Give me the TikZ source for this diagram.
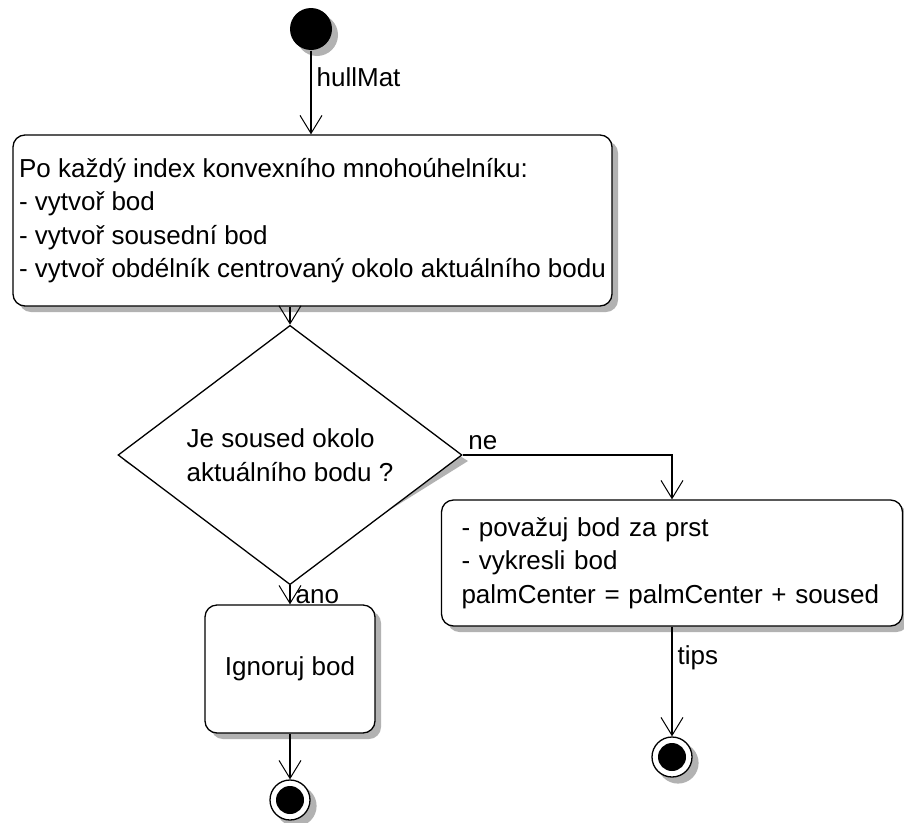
\documentclass[tikz,border=0pt]{standalone}
\usepackage{fontspec}
\setmainfont{Liberation Sans}
\usetikzlibrary{shapes.geometric,arrows.meta}

\begin{document}
\begin{tikzpicture}[x=1pt,y=-1pt,
  font=\fontsize{26}{33.5}\selectfont,
  line width=1.3pt,
  shadowfill/.style={fill=black!30,draw=none},
  actbox/.style={draw,rounded corners=12pt,fill=white,inner sep=0pt,align=left},
  decbox/.style={draw,diamond,fill=white,inner sep=0pt,minimum width=344pt,minimum height=215pt,align=left},
  startdot/.style={circle,fill=black,minimum size=42pt,inner sep=0pt},
  enddot/.style={circle,draw,fill=white,minimum size=40pt,inner sep=0pt,
    label={[circle,fill=black,minimum size=28pt,inner sep=0pt]center:{}}},
  flow/.style={-{Straight Barb[length=18pt,width=22pt,line width=1pt]}},
  lbl/.style={inner sep=5pt}]
\fill[white] (0,0) rectangle (904,822);
\useasboundingbox (0,0) rectangle (904,822);

% shadows
\fill[shadowfill] (317,35) circle (21);
\fill[shadowfill,rounded corners=12pt] (19,141) rectangle (618,312);
\fill[shadowfill] (296,353.5) -- (468,461) -- (296,568.5) -- (124,461) -- cycle;
\fill[shadowfill,rounded corners=12pt] (447.5,506) rectangle (908.5,632);
\fill[shadowfill,rounded corners=12pt] (211,611) rectangle (381,739);
\fill[shadowfill] (296,806) circle (20.6);
\fill[shadowfill] (678,763) circle (20.6);

\node[startdot] (start) at (311,29) {};
\node[actbox,minimum width=599pt,minimum height=171pt] (loop) at (312.5,220.5)
  {Po každý index konvexního mnohoúhelníku:\\- vytvoř bod\\- vytvoř sousední bod\\- vytvoř obdélník centrovaný okolo aktuálního bodu};
\node[decbox] (dec) at (290,455) {Je soused okolo\\aktuálního bodu ?};
\node[actbox,minimum width=461pt,minimum height=126pt,text width=421pt] (act) at (672,563)
  {- považuj bod za prst\\- vykresli bod\\palmCenter = palmCenter + soused};
\node[actbox,minimum width=170pt,minimum height=128pt,align=center] (skip) at (290,669) {Ignoruj bod};
\node[enddot] (end1) at (290,800) {};
\node[enddot] (end2) at (672,757) {};

\draw[flow] (start) -- node[lbl,right,pos=0.32] {hullMat} (start |- loop.north);
\draw[flow] (dec.north |- loop.south) -- (dec.north);
\draw[flow] (dec.east) -| node[lbl,above right,pos=0] {ne} (act.north);
\draw[flow] (dec.south) -- node[lbl,right,pos=0.6] {ano} (skip.north);
\draw[flow] (skip) -- (end1);
\draw[flow] (act) -- node[lbl,right,pos=0.28] {tips} (end2);
\end{tikzpicture}
\end{document}
